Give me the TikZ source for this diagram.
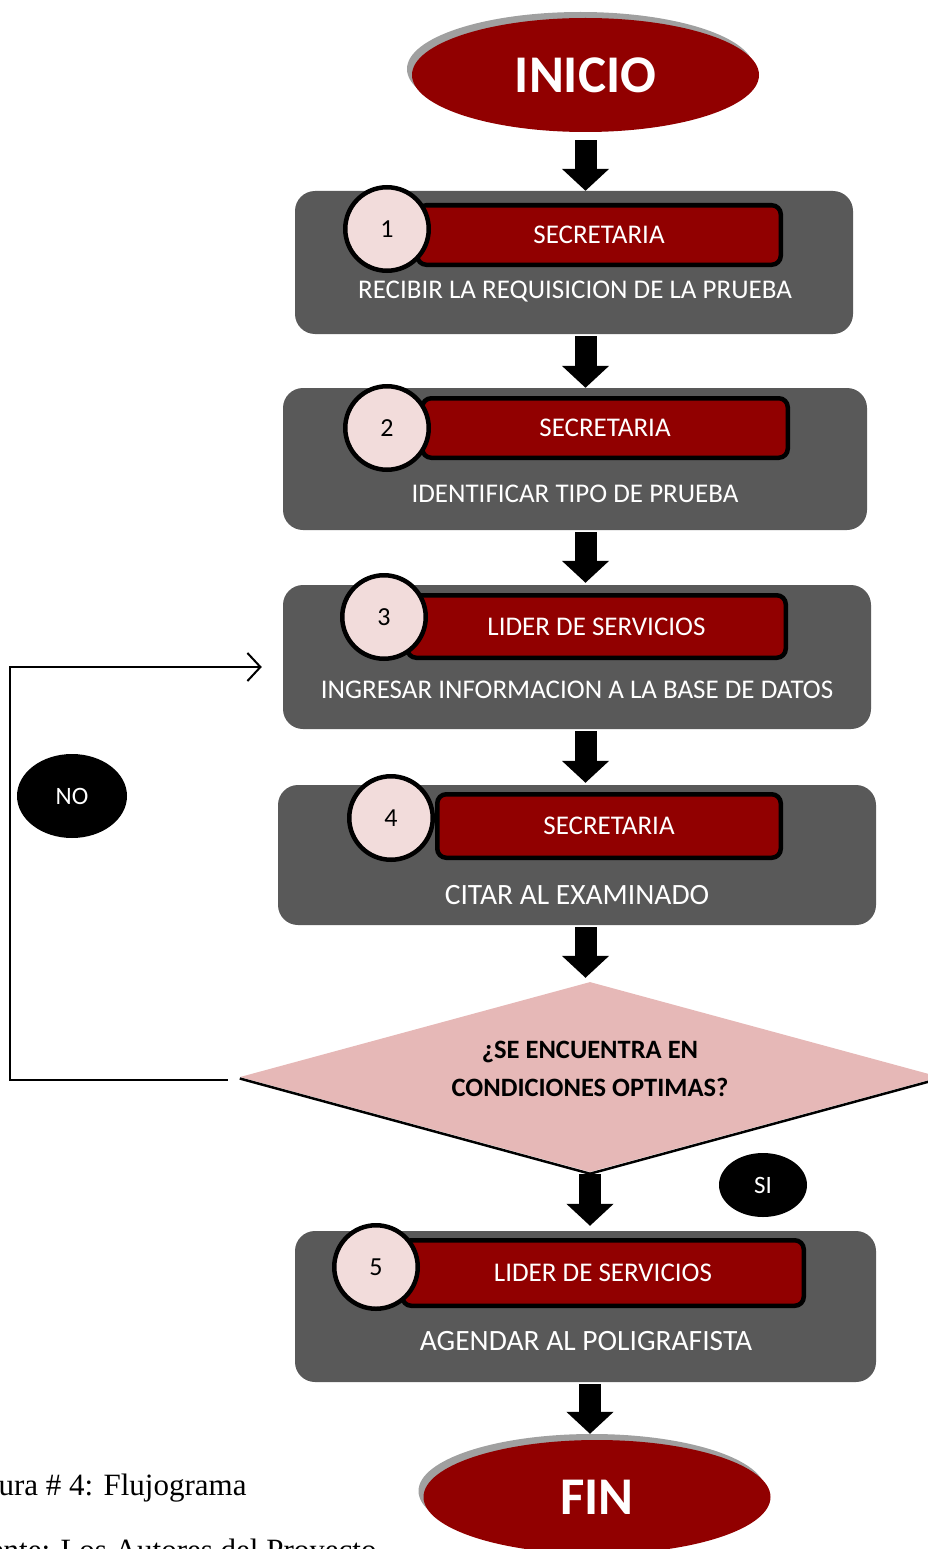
\documentclass[tikz,border=0pt]{standalone}
\usepackage{fontspec}
\setmainfont{Carlito}
\newfontfamily\capfont{Liberation Serif}
\usetikzlibrary{shapes.geometric,arrows.meta}
\definecolor{boxgray}{HTML}{595959}
\definecolor{darkred}{HTML}{910000}
\definecolor{pinkc}{HTML}{F2DCDB}
\definecolor{pinkd}{HTML}{E6B8B7}
\definecolor{shadowgray}{HTML}{A0A0A0}
\begin{document}
\begin{tikzpicture}[x=1pt,y=-1pt,
  term/.style={ellipse, fill=darkred, inner sep=0, minimum width=347pt, minimum height=114pt, text=white, font=\fontsize{53}{60}\selectfont\bfseries},
  termshadow/.style={ellipse, fill=shadowgray, inner sep=0, minimum width=347pt, minimum height=114pt},
  stepbox/.style={rectangle, rounded corners=20pt, fill=boxgray, inner sep=0},
  rolebar/.style={rectangle, rounded corners=9pt, fill=darkred, draw=black, line width=4.5pt, text=white, font=\fontsize{27}{32}\selectfont, inner sep=0},
  numc/.style={circle, fill=pinkc, draw=black, line width=4.5pt, minimum size=83.5pt, inner sep=0, font=\fontsize{26}{30}\selectfont},
  steptext/.style={text=white, font=\fontsize{27}{32}\selectfont, inner sep=0},
  bigsteptext/.style={text=white, font=\fontsize{29.5}{34}\selectfont, inner sep=0},
  blockarr/.style={line width=22pt, -{Triangle[width=46pt,length=22pt]}},
  tag/.style={ellipse, fill=black, text=white, inner sep=0, font=\fontsize{25}{30}\selectfont}
]
\useasboundingbox (0,0) rectangle (928,1549);
\clip (0,0) rectangle (928,1549);

% INICIO
\node[termshadow] (inis) at (580.5,69) {};
\node[term] (inicio) at (585.5,75) {INICIO};

% Step 1
\node[stepbox, minimum width=558pt, minimum height=143pt] (b1) at (574,262.5) {};
\node[rolebar, minimum width=363.5pt, minimum height=59.5pt] (r1) at (599,235) {SECRETARIA};
\node[numc] (c1) at (387,229) {1};
\node[steptext] (t1) at (575,292) {RECIBIR LA REQUISICION DE LA PRUEBA};

% Step 2
\node[stepbox, minimum width=584pt, minimum height=142pt] (b2) at (575,459) {};
\node[rolebar, minimum width=365.5pt, minimum height=59.5pt] (r2) at (605,428) {SECRETARIA};
\node[numc] (c2) at (387,428) {2};
\node[steptext] (t2) at (575,494) {IDENTIFICAR TIPO DE PRUEBA};

% Step 3
\node[stepbox, minimum width=588pt, minimum height=144pt] (b3) at (577,657) {};
\node[rolebar, minimum width=378.5pt, minimum height=62.5pt] (r3) at (596.5,626.5) {LIDER DE SERVICIOS};
\node[numc] (c3) at (384,617) {3};
\node[steptext] (t3) at (577,690) {INGRESAR INFORMACION A LA BASE DE DATOS};

% Step 4
\node[stepbox, minimum width=598pt, minimum height=140pt] (b4) at (577,855) {};
\node[rolebar, minimum width=343.5pt, minimum height=63.5pt] (r4) at (609,826) {SECRETARIA};
\node[numc] (c4) at (391,818) {4};
\node[bigsteptext] (t4) at (577,895) {CITAR AL EXAMINADO};

% Decision
\node[diamond, aspect=3.68, fill=pinkd, minimum width=700pt, minimum height=190pt, inner sep=0] (d) at (590,1077) {};
\draw[line width=2.5pt] ([yshift=-1.5pt]d.west) -- ([yshift=-1.5pt]d.south) -- ([yshift=-1.5pt]d.east);
\node[font=\fontsize{26.5}{38}\selectfont\bfseries, align=center, inner sep=0] (dq) at (590,1069) {¿SE ENCUENTRA EN\\CONDICIONES OPTIMAS?};

% Step 5
\node[stepbox, minimum width=581pt, minimum height=151pt] (b5) at (585.5,1306.5) {};
\node[rolebar, minimum width=401.5pt, minimum height=65.5pt] (r5) at (603,1273) {LIDER DE SERVICIOS};
\node[numc] (c5) at (376,1267) {5};
\node[bigsteptext] (t5) at (586,1341) {AGENDAR AL POLIGRAFISTA};

% FIN
\node[termshadow] (fins) at (592,1491) {};
\node[term] (fin) at (597,1497) {FIN};

% Tags
\node[tag, minimum width=110pt, minimum height=84pt] (no) at (72,796) {NO};
\node[tag, minimum width=88pt, minimum height=64pt] (si) at (763,1185) {SI};

% Block arrows
\draw[blockarr, shorten <=8pt] (inicio.south) -- (inicio.south |- b1.north);
\draw[blockarr, shorten <=2pt] (b1.south -| inicio) -- (b2.north -| inicio);
\draw[blockarr, shorten <=2pt, shorten >=2pt] (b2.south -| inicio) -- (b3.north -| inicio);
\draw[blockarr, shorten <=2pt, shorten >=2pt] (b3.south -| inicio) -- (b4.north -| inicio);
\draw[blockarr, shorten <=2pt, shorten >=4pt] (b4.south -| inicio) -- (d.north -| inicio);
\draw[blockarr, shorten <=2pt, shorten >=5pt] (d.south) -- (d.south |- b5.north);
\draw[blockarr, shorten <=2pt] (b5.south -| d) -- (d |- fins.north);

% NO loop
\coordinate (lc1) at (10,1080);
\draw[line width=2pt, -{Straight Barb[length=13pt,width=28pt]}, shorten >=21pt]
  ([xshift=-12pt,yshift=-3pt]d.west) -- (lc1) |- ([yshift=-10pt]b3.west);

% Caption
\node[anchor=base west, inner sep=0, font=\capfont\fontsize{31}{36}\selectfont] (cap1) at (-43,1495) {Figura \# 4: Flujograma};
\node[anchor=base west, inner sep=0, font=\capfont\fontsize{31}{36}\selectfont] (cap2) at (-43,1560) {Fuente: Los Autores del Proyecto};
\end{tikzpicture}
\end{document}
